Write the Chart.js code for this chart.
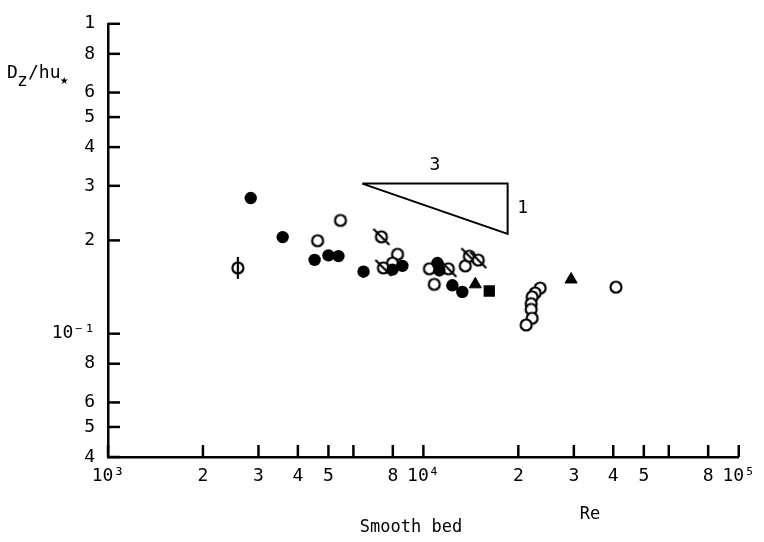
<!DOCTYPE html>
<html>
<head>
<meta charset="utf-8">
<script src="https://cdn.jsdelivr.net/npm/chart.js@4"></script>
<style>
  body { margin: 0; background: #fff; }
  #chart { display: block; }
</style>
</head>
<body>
<canvas id="chart" width="764" height="542"></canvas>
<script>
// --- data (Re, Dz/hu*) ---
const filledRe = [2835, 3580, 4520, 5000, 5380, 6460, 7980, 8580, 11080, 11240, 12360, 13290];
const filledDz = [0.274, 0.205, 0.173, 0.179, 0.178, 0.1585, 0.161, 0.1655, 0.169, 0.160, 0.1433, 0.1363];

const openRe = [4620, 5460, 8280, 7980, 10450, 10830, 13580, 23460, 22620, 22130, 21970, 21970, 22130, 21180, 40810];
const openDz = [0.1995, 0.232, 0.1804, 0.169, 0.162, 0.1443, 0.1655, 0.1403, 0.1353, 0.1315, 0.125, 0.1198, 0.1122, 0.1067, 0.1413];

const slashRe = [7360, 7470, 12000, 13990, 14930];
const slashDz = [0.2054, 0.163, 0.162, 0.1778, 0.1728];

const phiRe = [2580];
const phiDz = [0.163];

const triRe = [14610, 29400];
const triDz = [0.1443, 0.1496];

const squareRe = [16180];
const squareDz = [0.1373];

// slope triangle (3 : 1)
const slopeRe = [6400, 18500, 18500, 6400];
const slopeDz = [0.305, 0.305, 0.21, 0.305];

// ticks
const xTicks = [1000, 2000, 3000, 4000, 5000, 6000, 8000, 10000, 20000, 30000, 40000, 50000, 60000, 80000, 100000];
const xTickLabels = ['10³', '2', '3', '4', '5', '', '8', '10⁴', '2', '3', '4', '5', '', '8', '10⁵'];
const yTicks = [0.04, 0.05, 0.06, 0.08, 0.1, 0.2, 0.3, 0.4, 0.5, 0.6, 0.8, 1];
const yTickLabels = ['4', '5', '6', '8', '10⁻¹', '2', '3', '4', '5', '6', '8', '1'];

const FONT = '"DejaVu Sans Mono", monospace';

function toPoints(xs, ys) {
    return xs.map((x, i) => ({ x: x, y: ys[i] }));
}

// open circle markers, optionally crossed
function makeMarker(kind) {
    const c = document.createElement('canvas');
    c.width = 26;
    c.height = 26;
    const g = c.getContext('2d');
    g.strokeStyle = '#000';
    g.fillStyle = '#fff';
    g.lineWidth = 2.2;
    g.beginPath();
    g.arc(13, 13, 5.5, 0, Math.PI * 2);
    g.fill();
    g.stroke();
    if (kind === 'slash') {
        g.beginPath();
        g.moveTo(5, 5);
        g.lineTo(21, 21);
        g.stroke();
    } else if (kind === 'bar') {
        g.beginPath();
        g.moveTo(13, 2);
        g.lineTo(13, 24);
        g.stroke();
    }
    return c;
}

// inward tick marks + loose text
const decorPlugin = {
    id: 'decor',
    afterDraw(chart) {
        const ctx = chart.ctx;
        const xs = chart.scales.x;
        const ys = chart.scales.y;
        const area = chart.chartArea;
        ctx.save();
        ctx.strokeStyle = '#000';
        ctx.lineWidth = 2.5;
        xTicks.forEach(v => {
            const px = xs.getPixelForValue(v);
            ctx.beginPath();
            ctx.moveTo(px, area.bottom);
            ctx.lineTo(px, area.bottom - 12);
            ctx.stroke();
        });
        yTicks.forEach(v => {
            const py = ys.getPixelForValue(v);
            ctx.beginPath();
            ctx.moveTo(area.left, py);
            ctx.lineTo(area.left + 12, py);
            ctx.stroke();
        });

        ctx.fillStyle = '#000';
        ctx.textBaseline = 'alphabetic';
        ctx.textAlign = 'left';
        ctx.font = '18px ' + FONT;
        ctx.fillText('D', 7, 78);
        ctx.fillText('z', 17, 86);
        ctx.fillText('/hu', 28, 78);
        ctx.font = '14px ' + FONT;
        ctx.fillText('★', 60, 84);

        ctx.font = '17px ' + FONT;
        ctx.textAlign = 'center';
        ctx.textBaseline = 'middle';
        ctx.fillText('Re', 590, 515);
        ctx.fillText('Smooth bed', 411, 528);

        // slope labels
        ctx.font = '18px ' + FONT;
        const midX = Math.sqrt(slopeRe[0] * slopeRe[1]);
        ctx.fillText('3', xs.getPixelForValue(midX), ys.getPixelForValue(slopeDz[0]) - 18);
        const midY = Math.sqrt(slopeDz[1] * slopeDz[2]);
        ctx.fillText('1', xs.getPixelForValue(slopeRe[1]) + 15, ys.getPixelForValue(midY));
        ctx.restore();
    }
};

const ctx = document.getElementById('chart').getContext('2d');
new Chart(ctx, {
    type: 'scatter',
    data: {
        datasets: [
            {
                data: toPoints(slopeRe, slopeDz),
                showLine: true,
                borderColor: '#000',
                borderWidth: 2,
                pointRadius: 0,
                fill: false
            },
            {
                data: toPoints(triRe, triDz),
                pointStyle: 'triangle',
                pointRadius: 7,
                backgroundColor: '#000',
                borderColor: '#000',
                borderWidth: 1
            },
            {
                data: toPoints(squareRe, squareDz),
                pointStyle: 'rect',
                pointRadius: 8,
                backgroundColor: '#000',
                borderColor: '#000',
                borderWidth: 0
            },
            {
                data: toPoints(filledRe, filledDz),
                pointStyle: 'circle',
                pointRadius: 6.2,
                backgroundColor: '#000',
                borderColor: '#000',
                borderWidth: 0
            },
            {
                data: toPoints(slashRe, slashDz),
                pointStyle: makeMarker('slash'),
                pointRadius: 6
            },
            {
                data: toPoints(openRe, openDz),
                pointStyle: makeMarker('plain'),
                pointRadius: 6
            },
            {
                data: toPoints(phiRe, phiDz),
                pointStyle: makeMarker('bar'),
                pointRadius: 6
            }
        ]
    },
    options: {
        responsive: false,
        animation: false,
        devicePixelRatio: 1,
        layout: { padding: { left: 0, top: 13, right: 25, bottom: 0 } },
        plugins: {
            legend: { display: false },
            tooltip: { enabled: false }
        },
        scales: {
            x: {
                type: 'logarithmic',
                min: 1000,
                max: 100000,
                afterFit: s => { s.height = 85; },
                afterBuildTicks: s => { s.ticks = xTicks.map(v => ({ value: v })); },
                grid: { display: false, drawTicks: false },
                border: { display: true, color: '#000', width: 2.5 },
                ticks: {
                    autoSkip: false,
                    maxRotation: 0,
                    padding: 9,
                    color: '#000',
                    font: { family: FONT, size: 18 },
                    callback: (v, i) => xTickLabels[i]
                }
            },
            y: {
                type: 'logarithmic',
                min: 0.04,
                max: 1,
                afterFit: s => { s.width = 108; },
                afterBuildTicks: s => { s.ticks = yTicks.map(v => ({ value: v })); },
                grid: { display: false, drawTicks: false },
                border: { display: true, color: '#000', width: 2.5 },
                ticks: {
                    autoSkip: false,
                    padding: 13,
                    color: '#000',
                    font: { family: FONT, size: 18 },
                    callback: (v, i) => yTickLabels[i]
                }
            }
        }
    },
    plugins: [decorPlugin]
});
</script>
</body>
</html>
